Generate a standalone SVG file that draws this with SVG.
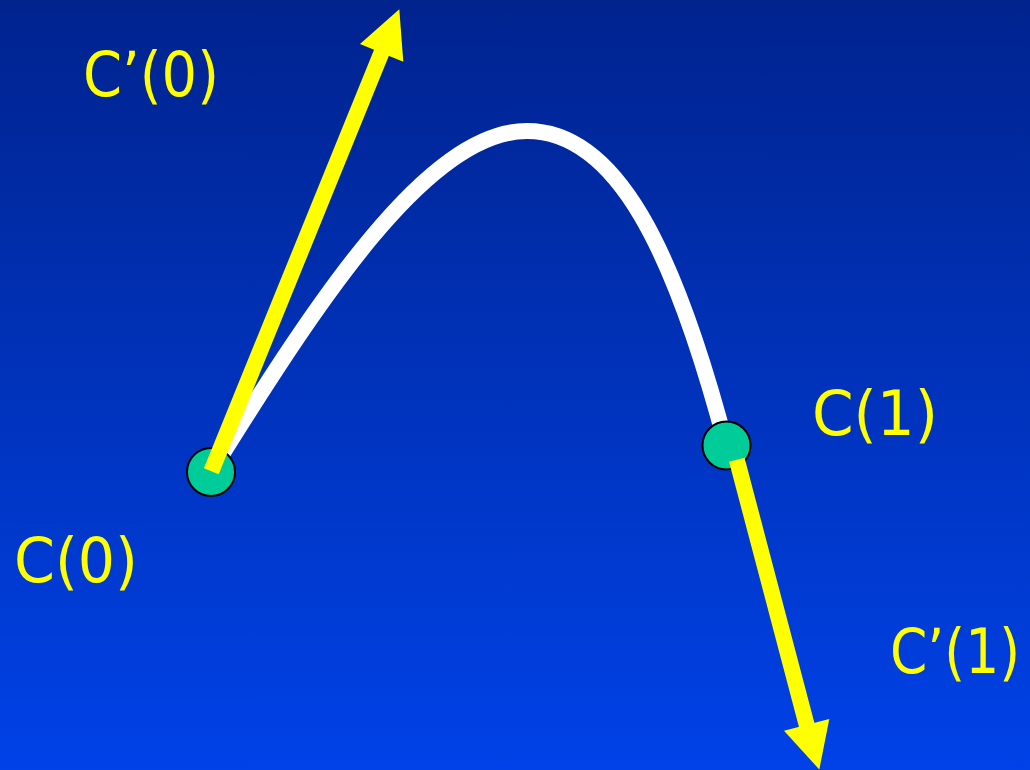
<svg xmlns="http://www.w3.org/2000/svg" width="1030" height="770" viewBox="0 0 1030 770">
  <defs>
    <linearGradient id="bg" x1="0" y1="0" x2="0" y2="1">
      <stop offset="0" stop-color="#00238E"/>
      <stop offset="1" stop-color="#0042E8"/>
    </linearGradient>
  </defs>
  <style>
    .label { font-family: "DejaVu Sans Condensed", "DejaVu Sans", Verdana, sans-serif; font-stretch: condensed; font-size: 62px; fill: #FFFF00; }
    .point { fill: #00CC99; stroke: #000000; stroke-width: 2; }
    .curve { fill: none; stroke: #FFFFFF; stroke-width: 16; }
    .shaft { stroke: #FFFF00; stroke-width: 16; stroke-linecap: butt; }
    .head { fill: #FFFF00; stroke: none; }
  </style>
  <rect x="0" y="0" width="1030" height="770" fill="url(#bg)"/>

  <g id="connectors">
    <path id="curve" class="curve" d="M211,472 C317,302 427,131 527,131 C617,131 675,252 726,445"/>
  </g>

  <g id="node-c0">
    <circle class="point" cx="211" cy="472" r="24"/>
  </g>
  <g id="node-c1">
    <circle class="point" cx="726.5" cy="445.5" r="24"/>
  </g>

  <g id="tangent-arrows">
    <g id="arrow-c0-prime">
      <line class="shaft" x1="211.3" y1="471.3" x2="383" y2="49"/>
      <polygon class="head" points="399.3,9.3 360,44 403.3,61.7"/>
    </g>
    <g id="arrow-c1-prime">
      <line class="shaft" x1="736.8" y1="459.7" x2="807.5" y2="728"/>
      <polygon class="head" points="819.3,769.5 784,730.7 829.3,719"/>
    </g>
  </g>

  <g id="label-c0-prime">
    <text class="label" x="83" y="96" textLength="136" lengthAdjust="spacingAndGlyphs">C’(0)</text>
  </g>
  <g id="label-c1">
    <text class="label" x="812" y="435" textLength="126" lengthAdjust="spacingAndGlyphs">C(1)</text>
  </g>
  <g id="label-c0">
    <text class="label" x="14" y="582" textLength="124" lengthAdjust="spacingAndGlyphs">C(0)</text>
  </g>
  <g id="label-c1-prime">
    <text class="label" x="890" y="673" textLength="130" lengthAdjust="spacingAndGlyphs">C’(1)</text>
  </g>
</svg>
